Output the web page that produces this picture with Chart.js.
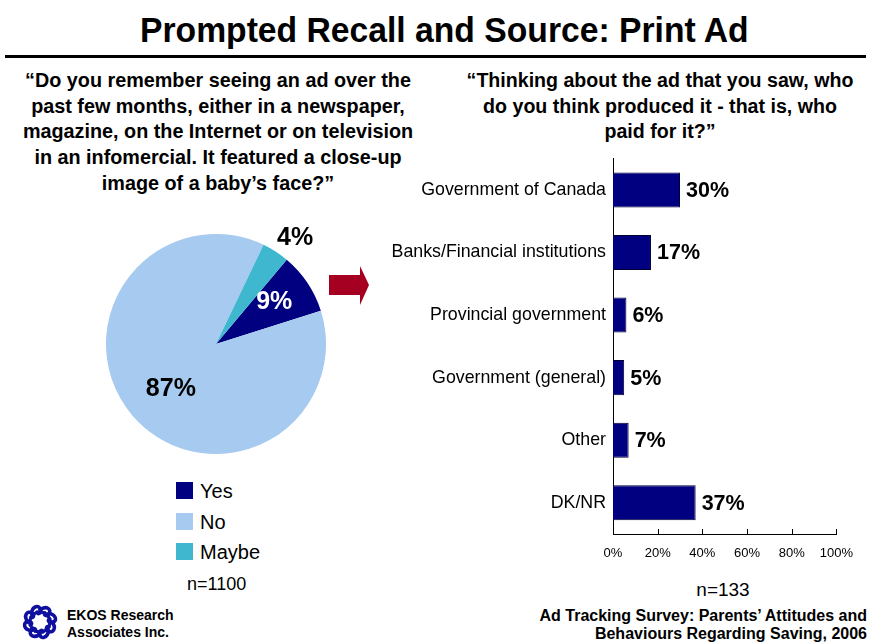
<!DOCTYPE html>
<html>
<head>
<meta charset="utf-8">
<script src="https://cdn.jsdelivr.net/npm/chart.js@4.4.1/dist/chart.umd.min.js"></script>
<style>
  body { margin: 0; width: 872px; height: 644px; background: #fff; position: relative; overflow: hidden;
         font-family: "Liberation Sans", Arial, sans-serif; color: #000; }
  .abs { position: absolute; }
  #title { left: 0; width: 888px; top: 10px; text-align: center; font-weight: bold; font-size: 35px; line-height: 40px; }
  #title span { display: inline-block; transform: scaleX(0.962); }
  #rule { left: 5px; width: 861px; top: 55px; height: 3px; background: #000; }
  #q1 { left: 8px; width: 420px; top: 68px; text-align: center; font-weight: bold; font-size: 19.8px; line-height: 25.7px; }
  #q2 { left: 450px; width: 420px; top: 68px; text-align: center; font-weight: bold; font-size: 19.6px; line-height: 25.7px; }
  #legend { left: 176px; top: 479px; font-size: 20px; }
  #legend div { height: 30.5px; line-height: 25px; }
  #legend span.sw { display: inline-block; width: 17px; height: 17px; vertical-align: -1px; margin-right: 7px; }
  #n1 { left: 187px; top: 574px; font-size: 18px; }
  #n2 { left: 623px; width: 200px; top: 579px; text-align: center; font-size: 19px; }
  #foot { right: 5px; top: 607px; text-align: right; font-weight: bold; font-size: 16px; line-height: 18px; }
  #ekos { left: 67px; top: 607px; font-weight: bold; font-size: 14px; line-height: 17px; }
</style>
</head>
<body>

<div id="title" class="abs"><span>Prompted Recall and Source: Print Ad</span></div>
<div id="rule" class="abs"></div>

<div id="q1" class="abs">“Do you remember seeing an ad over the<br>past few months, either in a newspaper,<br>magazine, on the Internet or on television<br>in an infomercial. It featured a close-up<br>image of a baby’s face?”</div>
<div id="q2" class="abs">“Thinking about the ad that you saw, who<br>do you think produced it - that is, who<br>paid for it?”</div>

<canvas id="pie" class="abs" width="260" height="260" style="left:86px; top:214px;"></canvas>
<div id="legend" class="abs"></div>
<div id="n1" class="abs"></div>

<svg class="abs" style="left:326px; top:262px;" width="48" height="48">
  <polygon points="3,13 34,13 34,4 43,23 34,43 34,33 3,33" fill="#A50021"/>
</svg>

<canvas id="bars" class="abs" width="485" height="429" style="left:380px; top:141px;"></canvas>
<div id="n2" class="abs"></div>

<svg id="logo" class="abs" style="left:20px; top:602px;" width="40" height="40"></svg>
<div id="ekos" class="abs">EKOS Research<br>Associates Inc.</div>
<div id="foot" class="abs">Ad Tracking Survey: Parents’ Attitudes and<br>Behaviours Regarding Saving, 2006</div>

<script>
// recall question (pie)
var recallLabels = ['Yes', 'No', 'Maybe'];
var recallValues = [9, 87, 4];
var recallColors = ['#000080', '#A6CAF0', '#3FB8CF'];
var recallSample = 'n=1100';

// who paid for it (bars)
var sourceLabels = ['Government of Canada', 'Banks/Financial institutions', 'Provincial government',
                    'Government (general)', 'Other', 'DK/NR'];
var sourceValues = [30, 17, 6, 5, 7, 37];
var sourceSample = 'n=133';
var axisTicks = [0, 20, 40, 60, 80, 100];

Chart.defaults.font.family = '"Liberation Sans", Arial, sans-serif';
Chart.defaults.color = '#000';

// legend + sample size under the pie
var legendEl = document.getElementById('legend');
recallLabels.forEach(function(lbl, i) {
  var row = document.createElement('div');
  row.innerHTML = '<span class="sw" style="background:' + recallColors[i] + '"></span>' + lbl;
  legendEl.appendChild(row);
});
document.getElementById('n1').textContent = recallSample;
document.getElementById('n2').textContent = sourceSample;

// percent labels on the slices: radius factor, angle nudge (deg) and colour per slice
var sliceLabelRadius = [0.65, 0.58, 1.2];
var sliceLabelNudge = [-1.6, -4, 4];
var sliceLabelColor = ['#fff', '#000', '#000'];

var pieLabels = {
  id: 'pieLabels',
  afterDatasetsDraw: function(chart) {
    var ctx = chart.ctx;
    chart.getDatasetMeta(0).data.forEach(function(arc, i) {
      var mid = (arc.startAngle + arc.endAngle) / 2 + sliceLabelNudge[i] * Math.PI / 180;
      var r = arc.outerRadius * sliceLabelRadius[i];
      ctx.save();
      ctx.font = 'bold 25px "Liberation Sans", Arial, sans-serif';
      ctx.fillStyle = sliceLabelColor[i];
      ctx.textAlign = 'center';
      ctx.textBaseline = 'middle';
      ctx.fillText(recallValues[i] + '%', arc.x + Math.cos(mid) * r, arc.y + Math.sin(mid) * r);
      ctx.restore();
    });
  }
};

new Chart(document.getElementById('pie'), {
  type: 'pie',
  data: {
    labels: recallLabels,
    datasets: [{ data: recallValues, backgroundColor: recallColors, borderWidth: 0 }]
  },
  options: {
    responsive: false,
    animation: false,
    rotation: 40,
    layout: { padding: 20 },
    plugins: { legend: { display: false }, tooltip: { enabled: false } }
  },
  plugins: [pieLabels]
});

// value labels at the end of each bar, and short inward ticks on the x axis
var barExtras = {
  id: 'barExtras',
  afterDatasetsDraw: function(chart) {
    var ctx = chart.ctx;
    ctx.save();
    ctx.font = 'bold 21.5px "Liberation Sans", Arial, sans-serif';
    ctx.fillStyle = '#000';
    ctx.textAlign = 'left';
    ctx.textBaseline = 'middle';
    chart.getDatasetMeta(0).data.forEach(function(bar, i) {
      ctx.fillText(sourceValues[i] + '%', bar.x + 6, bar.y + 1);
    });
    var xs = chart.scales.x, bottom = chart.chartArea.bottom;
    ctx.strokeStyle = '#000';
    ctx.lineWidth = 1;
    axisTicks.forEach(function(t) {
      var px = Math.round(xs.getPixelForValue(t)) + 0.5;
      ctx.beginPath();
      ctx.moveTo(px, bottom);
      ctx.lineTo(px, bottom - 5);
      ctx.stroke();
    });
    ctx.restore();
  }
};

// tick label overhang sets the top/right margins, so layout padding stays at 0
new Chart(document.getElementById('bars'), {
  type: 'bar',
  data: {
    labels: sourceLabels,
    datasets: [{
      data: sourceValues,
      backgroundColor: '#000080',
      borderColor: '#000030',
      borderWidth: 1,
      barPercentage: 0.56,
      categoryPercentage: 1
    }]
  },
  options: {
    indexAxis: 'y',
    responsive: false,
    animation: false,
    layout: { padding: 0 },
    scales: {
      x: {
        min: 0, max: 100,
        afterFit: function(s) { s.height = 36; },
        afterBuildTicks: function(s) { s.ticks = axisTicks.map(function(v) { return { value: v }; }); },
        grid: { display: false, drawTicks: false },
        border: { display: true, color: '#000', width: 1 },
        ticks: { padding: 12, font: { size: 13 }, callback: function(v) { return v + '%'; } }
      },
      y: {
        afterFit: function(s) { s.width = 233; },
        grid: { display: false, drawTicks: false },
        border: { display: true, color: '#000', width: 1 },
        ticks: { padding: 7, font: { size: 17.8 } }
      }
    },
    plugins: { legend: { display: false }, tooltip: { enabled: false } }
  },
  plugins: [barExtras]
});

// EKOS ring of curls
(function() {
  var svg = document.getElementById('logo');
  var ns = 'http://www.w3.org/2000/svg';
  for (var k = 0; k < 8; k++) {
    var g = document.createElementNS(ns, 'g');
    g.setAttribute('transform', 'rotate(' + (k * 45) + ' 20 20)');
    var p = document.createElementNS(ns, 'path');
    p.setAttribute('d', 'M20 8 C26 3 32 7 29 12 C27 15 23 13 25 11');
    p.setAttribute('fill', 'none');
    p.setAttribute('stroke', '#1010A0');
    p.setAttribute('stroke-width', '3.6');
    p.setAttribute('stroke-linecap', 'round');
    g.appendChild(p);
    svg.appendChild(g);
  }
  var ring = document.createElementNS(ns, 'circle');
  ring.setAttribute('cx', 20); ring.setAttribute('cy', 20); ring.setAttribute('r', 10);
  ring.setAttribute('fill', 'none'); ring.setAttribute('stroke', '#1010A0'); ring.setAttribute('stroke-width', 3);
  svg.appendChild(ring);
})();
</script>
</body>
</html>
